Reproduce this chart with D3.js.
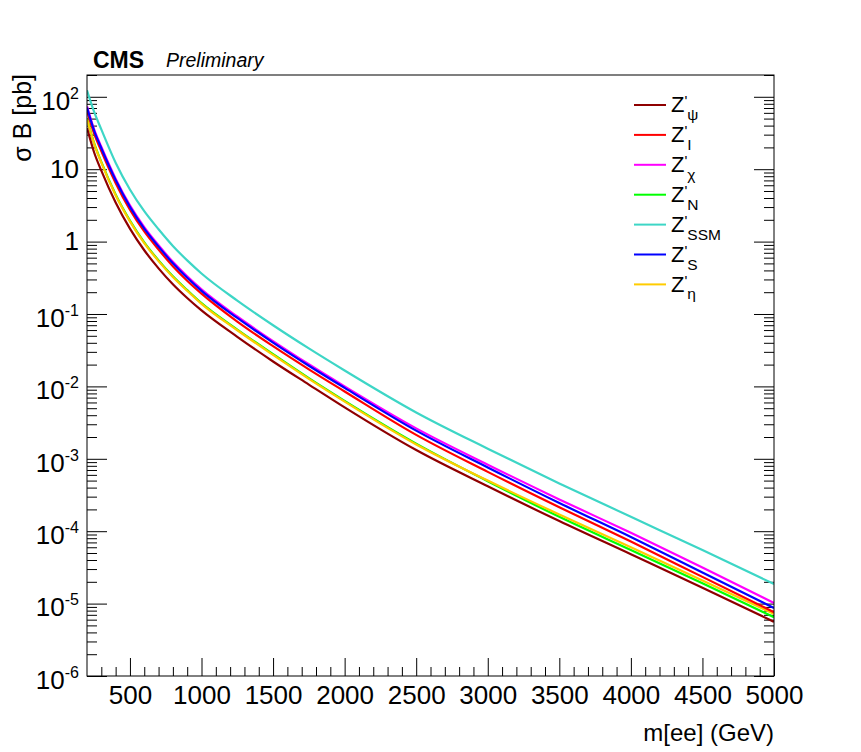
<!DOCTYPE html>
<html>
<head>
<meta charset="utf-8">
<script src="https://cdn.jsdelivr.net/npm/d3@7"></script>
<style>
    body { margin: 0; background: #fff; }
    text { font-family: "Liberation Sans", Arial, Helvetica, sans-serif; }
</style>
</head>
<body>
<div id="charts"></div>
<script>
const mass = [200, 250, 300, 400, 500, 600, 700, 800, 900, 1000,
              1250, 1500, 1750, 2000, 2500, 3000, 3500, 4000, 4500, 5000];

// sigma x B [pb] for each model
const z_psi = [37.2, 17.0, 9.55, 3.47, 1.51, 0.759, 0.427, 0.257, 0.166, 0.112,
               0.0484, 0.0221, 0.0106, 0.00513, 0.00132, 4.17e-4, 1.38e-4, 4.8e-5, 1.66e-5, 5.6e-6];
const z_i   = [64.6, 30.9, 17.8, 6.46, 2.75, 1.38, 0.776, 0.457, 0.288, 0.191,
               0.0785, 0.0359, 0.0172, 0.00851, 0.00214, 6.6e-4, 2.14e-4, 7.2e-5, 2.34e-5, 7.6e-6];
const z_chi = [74.1, 35.5, 20.4, 7.41, 3.16, 1.585, 0.891, 0.525, 0.331, 0.219,
               0.0923, 0.0422, 0.0202, 0.0100, 0.00263, 8.3e-4, 2.75e-4, 9.5e-5, 3.16e-5, 1.02e-5];
const z_n   = [50.1, 22.9, 12.6, 4.47, 1.95, 0.977, 0.550, 0.331, 0.214, 0.141,
               0.0610, 0.0279, 0.0130, 0.00631, 0.00162, 4.9e-4, 1.58e-4, 5.5e-5, 1.91e-5, 6.5e-6];
const z_ssm = [123, 61.7, 35.5, 12.3, 5.25, 2.63, 1.48, 0.871, 0.550, 0.363,
               0.153, 0.0700, 0.0335, 0.0166, 0.00437, 0.00138, 4.57e-4, 1.58e-4, 5.5e-5, 1.86e-5];
const z_s   = [70.8, 33.9, 19.5, 7.08, 3.02, 1.51, 0.851, 0.501, 0.316, 0.209,
               0.0881, 0.0403, 0.0193, 0.00955, 0.00245, 7.6e-4, 2.45e-4, 8.3e-5, 2.69e-5, 8.7e-6];
const z_eta = [49.0, 22.4, 12.3, 4.37, 1.905, 0.955, 0.537, 0.324, 0.209, 0.138,
               0.0596, 0.0272, 0.0127, 0.00617, 0.00158, 5.0e-4, 1.70e-4, 6.0e-5, 2.09e-5, 7.2e-6];

// legend order
const model_subs = ["\u03c8", "I", "\u03c7", "N", "SSM", "S", "\u03b7"];
const model_colors = ["#8f0000", "#ff0000", "#ff00ff", "#00ff00", "#3dd6c6", "#0000ff", "#ffcc00"];
const model_values = [z_psi, z_i, z_chi, z_n, z_ssm, z_s, z_eta];
// drawing order (last on top)
const draw_order = [4, 3, 6, 0, 1, 2, 5];

const x_major = [500, 1000, 1500, 2000, 2500, 3000, 3500, 4000, 4500, 5000];
const y_major = [1e-6, 1e-5, 1e-4, 1e-3, 1e-2, 1e-1, 1, 10, 100];

function build_chart() {
    let svg_width = 861, svg_height = 752,
        margin = {top: 75, right: 87, bottom: 76, left: 87},
        width = svg_width - margin.left - margin.right,
        height = svg_height - margin.top - margin.bottom;

    let x = d3.scaleLinear()
        .domain([200, 5000])
        .range([margin.left, margin.left + width]);
    let y = d3.scaleLog()
        .domain([1e-6, 200])
        .range([margin.top + height, margin.top]);

    let svg = d3.select("#charts").append("svg")
        .attr("width", svg_width)
        .attr("height", svg_height);

    svg.append("clipPath")
        .attr("id", "plotClip")
        .append("rect")
        .attr("x", margin.left)
        .attr("y", margin.top)
        .attr("width", width)
        .attr("height", height);

    // minor ticks
    let x_minor = d3.range(300, 5000, 100).filter(v => v % 500 != 0);
    let y_minor = [];
    for (let e = -6; e <= 2; e++)
        for (let k = 2; k <= 9; k++)
            if (k * Math.pow(10, e) <= 200) y_minor.push(k * Math.pow(10, e));

    let xAxis = svg.append("g")
        .attr("transform", "translate(0," + (margin.top + height) + ")")
        .call(d3.axisBottom(x)
            .tickValues(x_major)
            .tickSizeInner(-18)
            .tickSizeOuter(0)
            .tickPadding(9.5)
            .tickFormat(d3.format("d")));
    xAxis.select(".domain").remove();
    xAxis.selectAll("text")
        .attr("font-size", "26px")
        .attr("font-family", "Liberation Sans, Arial, sans-serif");

    svg.append("g")
        .attr("transform", "translate(0," + (margin.top + height) + ")")
        .call(d3.axisBottom(x)
            .tickValues(x_minor)
            .tickSizeInner(-9)
            .tickSizeOuter(0)
            .tickFormat(""))
        .select(".domain").remove();

    let yAxis = svg.append("g")
        .attr("transform", "translate(" + margin.left + ",0)")
        .call(d3.axisLeft(y)
            .tickValues(y_major)
            .tickSizeInner(-20)
            .tickSizeOuter(0)
            .tickPadding(8));
    yAxis.select(".domain").remove();
    yAxis.selectAll(".tick text")
        .attr("font-size", "26px")
        .attr("font-family", "Liberation Sans, Arial, sans-serif")
        .each(function(d) {
            let e = Math.round(Math.log10(d));
            let t = d3.select(this).text("");
            if (e == 0) t.text("1");
            else if (e == 1) t.text("10");
            else {
                t.attr("transform", "translate(0,4)");
                t.append("tspan").text("10");
                t.append("tspan")
                    .attr("dy", "-11px")
                    .attr("font-size", "16px")
                    .text(e);
            }
        });

    svg.append("g")
        .attr("transform", "translate(" + margin.left + ",0)")
        .call(d3.axisLeft(y)
            .tickValues(y_minor)
            .tickSizeInner(-10)
            .tickSizeOuter(0)
            .tickFormat(""))
        .select(".domain").remove();

    // right side ticks
    svg.append("g")
        .attr("transform", "translate(" + (margin.left + width) + ",0)")
        .call(d3.axisRight(y)
            .tickValues(y_major)
            .tickSizeInner(-20)
            .tickSizeOuter(0)
            .tickFormat(""))
        .select(".domain").remove();
    svg.append("g")
        .attr("transform", "translate(" + (margin.left + width) + ",0)")
        .call(d3.axisRight(y)
            .tickValues(y_minor)
            .tickSizeInner(-10)
            .tickSizeOuter(0)
            .tickFormat(""))
        .select(".domain").remove();

    // curves
    let line = d3.line()
        .x((_, i) => x(mass[i]))
        .y(v => y(v))
        .curve(d3.curveMonotoneX);
    svg.append("g")
        .attr("clip-path", "url(#plotClip)")
        .selectAll("path")
        .data(draw_order)
        .enter()
        .append("path")
        .attr("fill", "none")
        .attr("stroke", i => model_colors[i])
        .attr("stroke-width", 2.2)
        .attr("d", i => line(model_values[i]));

    // frame
    svg.append("rect")
        .attr("x", margin.left)
        .attr("y", margin.top)
        .attr("width", width)
        .attr("height", height)
        .attr("fill", "none")
        .attr("stroke", "#000")
        .attr("stroke-width", 1);

    // legend
    let legend = svg.append("g");
    model_subs.forEach((sub, i) => {
        let cy = 105 + i * 29.9;
        legend.append("line")
            .attr("x1", 634)
            .attr("x2", 666)
            .attr("y1", cy)
            .attr("y2", cy)
            .attr("stroke", model_colors[i])
            .attr("stroke-width", 2);
        let t = legend.append("text")
            .attr("x", 671)
            .attr("y", cy + 7.4)
            .attr("font-size", "22px");
        t.append("tspan").text("Z");
        t.append("tspan")
            .attr("dy", "-6px")
            .attr("font-size", "15px")
            .text("'");
        t.append("tspan")
            .attr("dy", "13.6px")
            .attr("font-size", "15.5px")
            .text(sub);
    });

    // titles
    svg.append("text")
        .attr("x", 93)
        .attr("y", 68)
        .attr("font-size", "23px")
        .attr("font-weight", "bold")
        .text("CMS");
    svg.append("text")
        .attr("x", 166)
        .attr("y", 67)
        .attr("font-size", "19.5px")
        .attr("font-style", "italic")
        .text("Preliminary");
    svg.append("text")
        .attr("text-anchor", "end")
        .attr("x", margin.left + width)
        .attr("y", 741)
        .attr("font-size", "24px")
        .text("m[ee] (GeV)");
    svg.append("text")
        .attr("text-anchor", "end")
        .attr("transform", "translate(31,74) rotate(-90)")
        .attr("font-size", "25px")
        .text("\u03c3 B [pb]");
}

window.onload = build_chart;
</script>
</body>
</html>
